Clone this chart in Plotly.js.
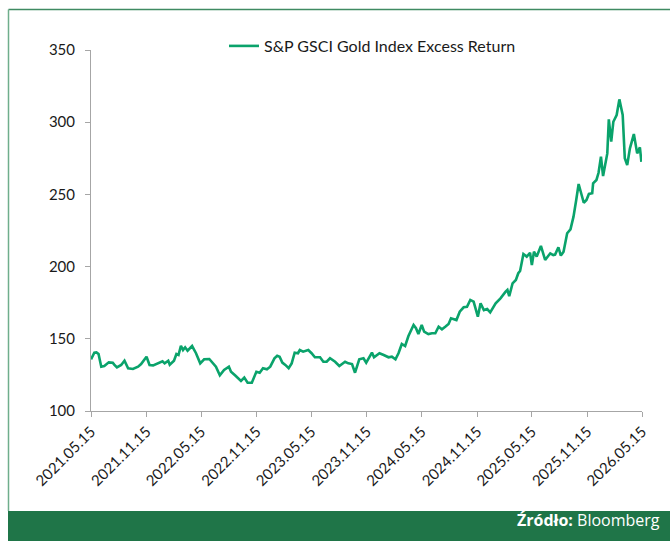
<!DOCTYPE html>
<html>
<head>
<meta charset="utf-8">
<script src="https://cdn.plot.ly/plotly-3.0.1.min.js"></script>
<style>
html,body{margin:0;padding:0;background:#fff;}
#chart{width:670px;height:541px;}
</style>
</head>
<body>
<div id="chart"></div>
<script>
var seriesName = "S&P GSCI Gold Index Excess Return";
var sourceLabel = "<b>Źródło:</b> Bloomberg";

var dates = [
"2021-05-15","2021-05-20","2021-05-26","2021-06-02","2021-06-09","2021-06-18","2021-06-28","2021-07-13","2021-07-26","2021-07-31",
"2021-08-09","2021-08-23","2021-09-03","2021-09-15","2021-10-01","2021-10-18","2021-10-28","2021-11-15","2021-11-25","2021-12-07",
"2021-12-23","2022-01-07","2022-01-14","2022-01-26","2022-01-31","2022-02-14","2022-02-22","2022-03-01","2022-03-09","2022-03-16",
"2022-03-23","2022-03-31","2022-04-15","2022-04-28","2022-05-12","2022-05-25","2022-06-11","2022-06-22","2022-07-03","2022-07-16",
"2022-07-30","2022-08-15","2022-08-22","2022-09-06","2022-09-24","2022-10-05","2022-10-16","2022-10-30","2022-11-14","2022-11-25",
"2022-12-06","2022-12-19","2022-12-30","2023-01-13","2023-01-22","2023-01-30","2023-02-08","2023-02-18","2023-03-01","2023-03-11",
"2023-03-21","2023-04-01","2023-04-07","2023-04-18","2023-05-05","2023-05-16","2023-05-27","2023-06-13","2023-06-24","2023-07-05",
"2023-07-16","2023-08-02","2023-08-16","2023-09-04","2023-09-15","2023-09-27","2023-10-07","2023-10-21","2023-11-04","2023-11-13",
"2023-11-24","2023-12-02","2023-12-09","2023-12-27","2024-01-10","2024-01-26","2024-02-06","2024-02-18","2024-02-28","2024-03-10",
"2024-03-21","2024-04-01","2024-04-18","2024-04-26","2024-05-04","2024-05-15","2024-05-23","2024-06-06","2024-06-18","2024-06-29",
"2024-07-10","2024-07-21","2024-08-01","2024-08-12","2024-08-20","2024-09-07","2024-09-18","2024-10-01","2024-10-12","2024-10-23",
"2024-11-03","2024-11-17","2024-11-26","2024-12-07","2024-12-18","2024-12-28","2025-01-15","2025-01-31","2025-02-17","2025-02-23",
"2025-03-01","2025-03-12","2025-03-23","2025-03-31","2025-04-06","2025-04-17","2025-04-28","2025-05-09","2025-05-15","2025-05-22",
"2025-05-31","2025-06-14","2025-06-28","2025-07-15","2025-07-25","2025-07-31","2025-08-11","2025-08-19","2025-08-28","2025-09-09",
"2025-09-20","2025-09-30","2025-10-09","2025-10-17","2025-11-03","2025-11-12","2025-11-20","2025-12-01","2025-12-04","2025-12-15",
"2025-12-22","2025-12-30","2026-01-06","2026-01-14","2026-01-20","2026-01-25","2026-02-02","2026-02-09","2026-02-20","2026-03-01",
"2026-03-12","2026-03-19","2026-03-27","2026-04-05","2026-04-18","2026-04-29","2026-05-08","2026-05-13"
];

var values = [
135.8,138.5,140.4,140.6,139.5,130.7,131.2,133.7,133.5,132.1,
130.2,131.9,134.8,129.6,129.1,130.7,132.5,137.6,131.9,131.6,
133.0,134.4,133.0,134.8,132.1,134.8,139.5,138.8,145.2,142.2,
144.1,141.8,145.0,140.0,133.0,135.8,136.0,133.0,130.7,124.7,
128.4,130.7,127.2,124.4,120.8,123.1,119.6,119.6,127.2,126.5,
129.6,128.9,130.7,136.5,138.3,137.6,133.5,131.9,129.6,133.0,
140.4,140.0,142.2,141.1,142.2,140.0,137.2,137.2,134.1,134.1,
136.5,134.1,131.2,134.1,133.0,132.5,126.5,135.8,136.5,133.5,
137.2,140.4,137.2,140.0,138.8,137.2,137.6,135.8,140.0,146.4,
145.0,151.9,159.6,157.3,153.3,159.6,154.9,153.3,153.8,153.8,
158.4,156.6,158.4,160.3,164.2,163.0,168.8,171.8,172.2,176.9,
175.7,165.3,174.6,169.9,170.6,168.3,174.6,178.0,182.6,183.8,
179.6,188.4,190.7,195.4,197.0,208.7,206.9,209.6,201.1,210.3,
206.9,214.3,204.6,209.2,208.0,208.3,213.4,207.6,210.3,223.1,
225.8,234.6,246.1,257.2,244.2,246.1,250.3,250.8,257.7,260.0,
265.0,276.1,262.7,272.6,278.4,302.0,286.5,300.3,305.0,315.8,
305.0,275.0,270.4,281.9,291.8,278.4,282.6,272.6
];

var yTicks = [100,150,200,250,300,350];

var W = 670, H = 541;
var L = 91, R = 642, T = 50, B = 411;
function px(x){ return (x - L) / (R - L); }
function py(y){ return (B - y) / (B - T); }

var trace = {
  x: dates, y: values, type: "scatter", mode: "lines", name: seriesName,
  line: {color: "#0aa36b", width: 2.6}
};

var layout = {
  width: W, height: H,
  margin: {l: L, r: W - R, t: T, b: H - B, pad: 0},
  paper_bgcolor: "#ffffff", plot_bgcolor: "#ffffff",
  font: {family: "Lato, 'Open Sans', sans-serif", size: 14, color: "#1a1a1a"},
  showlegend: true,
  legend: {
    x: px(224), xanchor: "left", y: py(46), yanchor: "middle",
    orientation: "h", bgcolor: "rgba(0,0,0,0)",
    font: {family: "Lato, sans-serif", size: 16, color: "#1a1a1a"}
  },
  xaxis: {
    type: "date",
    range: ["2021-05-15", "2026-05-15"],
    tick0: "2021-05-15", dtick: "M6", tickformat: "%Y.%m.%d",
    tickangle: -45, ticks: "outside", ticklen: 5, tickcolor: "#a6a6a6",
    showline: true, linecolor: "#a6a6a6", linewidth: 1,
    showgrid: false, zeroline: false,
    tickfont: {family: "Lato, sans-serif", size: 15, color: "#1a1a1a"},
    fixedrange: true
  },
  yaxis: {
    range: [100, 350], tickvals: yTicks,
    ticks: "outside", ticklen: 5, tickcolor: "#a6a6a6",
    showline: true, linecolor: "#a6a6a6", linewidth: 1,
    showgrid: false, zeroline: false,
    tickfont: {family: "Lato, sans-serif", size: 15, color: "#1a1a1a"},
    ticklabelstandoff: 7,
    fixedrange: true
  },
  shapes: [
    {type: "rect", xref: "paper", yref: "paper", x0: px(8), x1: px(671), y0: py(511), y1: py(542),
     fillcolor: "#1f7548", line: {width: 0}, layer: "below"},
    {type: "line", xref: "paper", yref: "paper", x0: px(8.5), x1: px(671), y0: py(9.5), y1: py(9.5),
     line: {color: "#3f8a62", width: 1.5}},
    {type: "line", xref: "paper", yref: "paper", x0: px(8.5), x1: px(8.5), y0: py(9.5), y1: py(511),
     line: {color: "#6fae8c", width: 1.5}}
  ],
  annotations: [
    {text: sourceLabel, xref: "paper", yref: "paper", x: px(662), y: py(520),
     xanchor: "right", yanchor: "middle", showarrow: false,
     font: {family: "'Open Sans', sans-serif", size: 16, color: "#ffffff"}}
  ]
};

Plotly.newPlot("chart", [trace], layout, {displayModeBar: false, staticPlot: true});
</script>
</body>
</html>
